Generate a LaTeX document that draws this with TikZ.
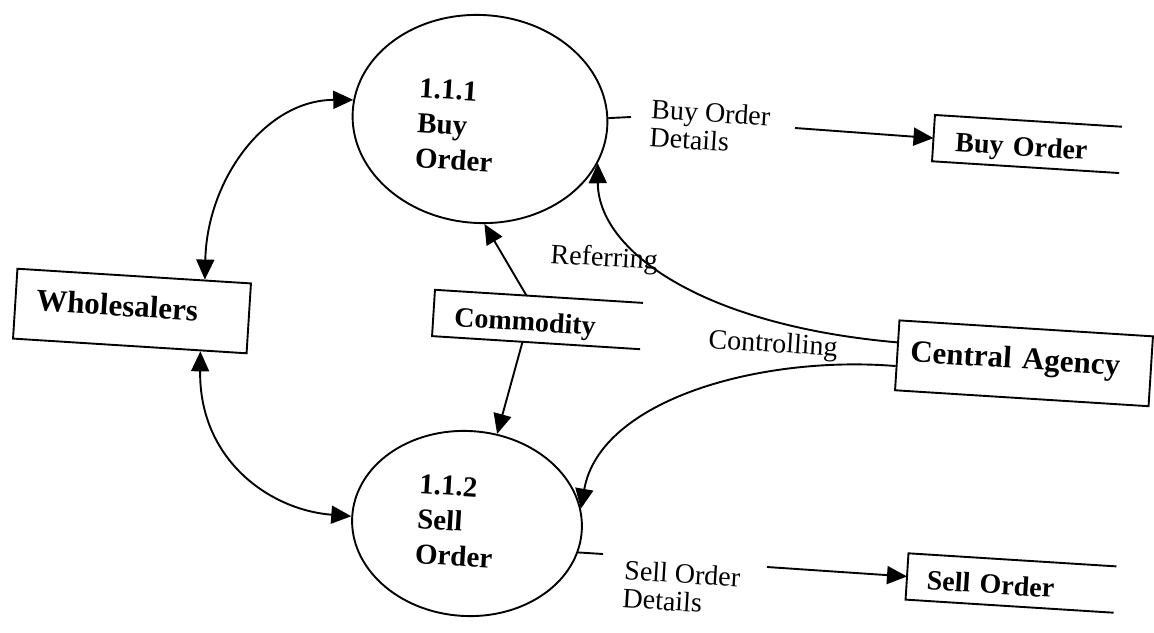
\documentclass[tikz,border=0pt]{standalone}
\usepackage{fontspec}
\setmainfont{Liberation Serif}
\usetikzlibrary{arrows.meta,calc,shapes.geometric}

\begin{document}
\begin{tikzpicture}[x=1pt,y=-1pt,
  every node/.style={rotate=-3.6},
  line/.style={line width=1.9pt},
  tip/.tip={Triangle[length=20pt,width=18pt]},
  flow/.style={line,-tip},
  twoway/.style={line,tip-tip},
  process/.style={ellipse,draw,line width=1.9pt,inner sep=0pt},
  proctext/.style={anchor=north west,inner sep=0pt,align=left,
    font=\bfseries\fontsize{29}{35}\selectfont},
  entity/.style={draw,line width=1.9pt,minimum height=70pt,inner ysep=0pt,
    align=left,font=\bfseries\fontsize{31}{36}\selectfont,
    text height=21.7pt,text depth=10.2pt},
  store/.style={minimum height=46pt,inner ysep=0pt,align=left,
    font=\bfseries\fontsize{28}{32}\selectfont,
    text height=23.8pt,text depth=0pt},
  flowlabel/.style={inner sep=0pt,align=left,
    font=\fontsize{28}{28}\selectfont}]

\useasboundingbox (0,0) rectangle (1154,632);

% processes
\node[process,minimum width=255pt,minimum height=208pt] (buy) at (480,119) {};
\node[proctext] (buytext) at (420,78) {1.1.1\\Buy\\Order};
\node[process,minimum width=230pt,minimum height=185pt] (sell) at (467,523.5) {};
\node[proctext] (selltext) at (420,474) {1.1.2\\Sell\\Order};

% external entities
\node[entity,inner xsep=21pt,text width=192pt] (whole) at (132,311) {Wholesalers};
\node[entity,inner xsep=13pt,text width=228pt] (agency) at (1024,363.3) {Central Agency};

% data stores (open on the right)
\node[store,inner xsep=22pt,text width=143pt] (bostore) at (1027,144) {Buy Order};
\node[store,inner xsep=21pt,text width=166pt] (comm) at (537.5,319.5) {Commodity};
\node[store,inner xsep=20pt,text width=168pt] (sostore) at (1011,583) {Sell Order};
\foreach \s in {bostore,comm,sostore}
  \draw[line] (\s.north east) -- (\s.north west) -- (\s.south west) -- (\s.south east);

% flows with the wholesalers
\draw[twoway] ($(whole.north west)!0.8!(whole.north east)$)
  .. controls (207,180) and (265,100) .. (buy.175);
\draw[twoway] ($(whole.south west)!0.8!(whole.south east)$)
  .. controls (199,460) and (270,510) .. (sell.west);

% commodity reads
\draw[flow] ($(comm.north west)!0.44!(comm.north east)$) -- (buy.276);
\draw[flow] ($(comm.south west)!0.435!(comm.south east)$) -- (sell.75);

% central agency
\draw[flow] ($(agency.north west)!0.32!(agency.south west)$)
  .. controls (700,325) and (598,250) .. (buy.343);
\draw[flow] ($(agency.north west)!0.65!(agency.south west)$)
  .. controls (760,355) and (600,400) .. (sell.11);
\node[flowlabel,anchor=base west] (reflabel) at (550,263) {Referring};
\node[flowlabel,anchor=base west] (ctllabel) at (708,348) {Controlling};

% order details
\coordinate (bostub) at (631,117);
\coordinate (botail) at (795,128);
\draw[line] (buy.4) -- (bostub);
\node[flowlabel,anchor=north west] (bolabel) at (652,99) {Buy Order\\Details};
\draw[flow] (botail) -- (bostore.west);

\coordinate (sostub) at (603,554);
\coordinate (sotail) at (767,567);
\draw[line] (sell.349) -- (sostub);
\node[flowlabel,anchor=north west] (solabel) at (625,560) {Sell Order\\Details};
\draw[flow] (sotail) -- (sostore.west);

\end{tikzpicture}
\end{document}
